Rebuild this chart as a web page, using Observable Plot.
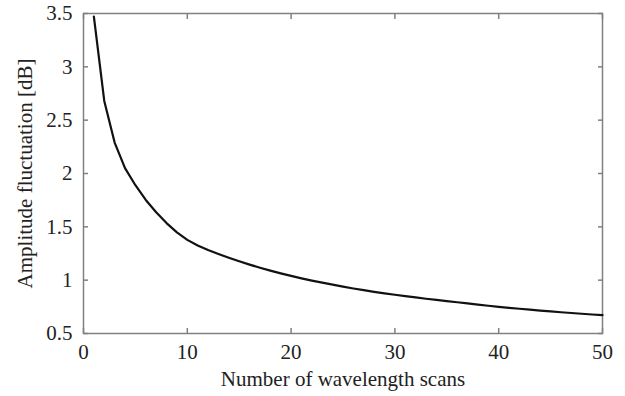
<!DOCTYPE html>
<html>
<head>
<meta charset="utf-8">
<script src="https://cdn.jsdelivr.net/npm/d3@7"></script>
<script src="https://cdn.jsdelivr.net/npm/@observablehq/plot@0.6"></script>
<style>
  html, body { margin: 0; padding: 0; background: #fff; }
</style>
</head>
<body>
<div id="chart"></div>
<script>
const scans = [1,2,3,4,5,6,7,8,9,10,11,12,13,14,15,16,17,18,19,20,21,22,23,24,25,26,27,28,29,30,31,32,33,34,35,36,37,38,39,40,41,42,43,44,45,46,47,48,49,50];
const fluctuation = [3.47,2.68,2.29,2.05,1.89,1.752,1.637,1.535,1.448,1.378,1.325,1.282,1.245,1.21,1.177,1.146,1.117,1.09,1.064,1.04,1.017,0.996,0.977,0.958,0.94,0.922,0.906,0.891,0.877,0.863,0.85,0.838,0.826,0.815,0.804,0.793,0.782,0.771,0.76,0.75,0.741,0.732,0.723,0.715,0.707,0.699,0.692,0.685,0.678,0.672];
const xTicks = [0,10,20,30,40,50];
const yTicks = [0.5,1,1.5,2,2.5,3,3.5];
const xLabel = "Number of wavelength scans";
const yLabel = "Amplitude fluctuation [dB]";

const data = scans.map((n, i) => ({n, v: fluctuation[i]}));
const frameColor = "#808080";

const chart = Plot.plot({
  width: 625,
  height: 396,
  marginLeft: 83,
  marginRight: 23,
  marginTop: 13,
  marginBottom: 63,
  style: {fontFamily: "'Liberation Serif', 'Times New Roman', serif", fontSize: "21px", color: "#222", background: "#fff"},
  x: {domain: [0, 50]},
  y: {domain: [0.5, 3.5]},
  marks: [
    Plot.frame({stroke: frameColor, strokeWidth: 1.5}),
    Plot.axisX(xTicks, {anchor: "bottom", tickSize: 0, tickPadding: 11, label: xLabel, labelArrow: false, labelAnchor: "center", labelOffset: 52, fontSize: 21}),
    Plot.axisX(xTicks, {anchor: "bottom", tickSize: -5, text: null, label: null, stroke: frameColor, strokeWidth: 1.5}),
    Plot.axisX(xTicks, {anchor: "top", tickSize: -5, text: null, label: null, stroke: frameColor, strokeWidth: 1.5}),
    Plot.axisY(yTicks, {anchor: "left", tickSize: 0, tickPadding: 11, tickFormat: d => `${d}`, label: yLabel, labelArrow: false, labelAnchor: "center", labelOffset: 66, fontSize: 21}),
    Plot.axisY(yTicks, {anchor: "left", tickSize: -5, text: null, label: null, stroke: frameColor, strokeWidth: 1.5}),
    Plot.axisY(yTicks, {anchor: "right", tickSize: -5, text: null, label: null, stroke: frameColor, strokeWidth: 1.5}),
    Plot.line(data, {x: "n", y: "v", stroke: "#111", strokeWidth: 2.2})
  ]
});
document.getElementById("chart").append(chart);
</script>
</body>
</html>
